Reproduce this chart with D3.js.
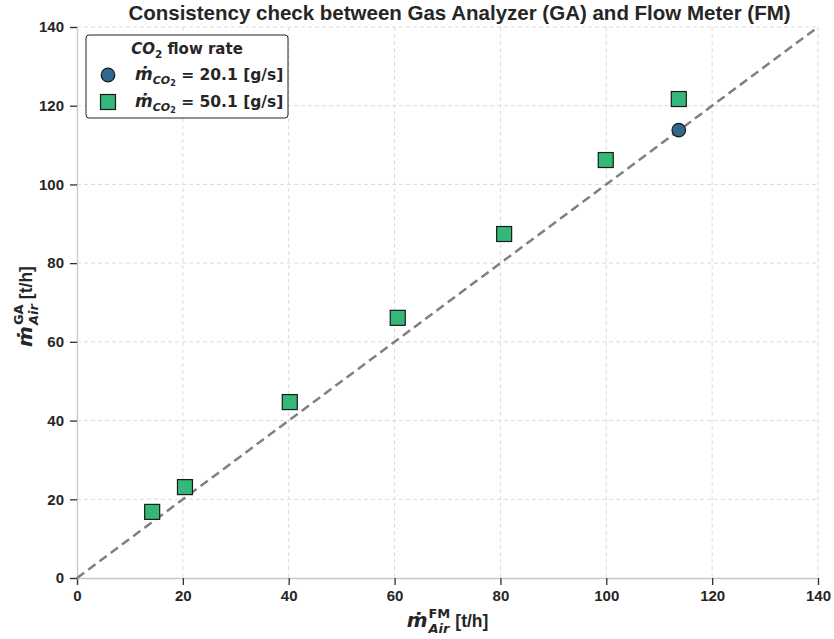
<!DOCTYPE html>
<html lang="en">
<head>
  <meta charset="utf-8" />
  <title>Consistency check</title>
  <style>
    body { margin: 0; background: #fff; font-family: "DejaVu Sans", sans-serif; }
    .tick text { font-family: "Liberation Sans", Arial, sans-serif; font-weight: 700; font-size: 15px; fill: #262626; }
    .grid line { stroke: #dcdcdc; stroke-dasharray: 4,3; }
  </style>
</head>
<body>
  <div id="graphic"></div>
  <script src="https://cdn.jsdelivr.net/npm/d3@7/dist/d3.min.js"></script>
  <script>
    // data
    var fmLow = [113.7];            // CO2 = 20.1 g/s
    var gaLow = [113.8];
    var fmHigh = [14.2, 20.4, 40.2, 60.6, 80.7, 99.9, 113.7];   // CO2 = 50.1 g/s
    var gaHigh = [16.8, 23.1, 44.7, 66.1, 87.4, 106.2, 121.7];
    var ticks = [0, 20, 40, 60, 80, 100, 120, 140];

    var width = 834, height = 639;
    var margin = {top: 27, right: 16, bottom: 61, left: 77};
    var w = width - margin.left - margin.right;
    var h = height - margin.top - margin.bottom;

    var svg = d3.select('#graphic').append('svg')
      .attr('width', width)
      .attr('height', height);

    var g = svg.append('g')
      .attr('transform', 'translate(' + margin.left + ',' + margin.top + ')');

    var x = d3.scaleLinear().domain([0, 140]).range([0, w]);
    var y = d3.scaleLinear().domain([0, 140]).range([h, 0]);

    // grid
    g.append('g').attr('class', 'grid')
      .selectAll('line').data(ticks.slice(1)).enter().append('line')
      .attr('x1', function(d) { return x(d) }).attr('x2', function(d) { return x(d) })
      .attr('y1', 0).attr('y2', h);
    g.append('g').attr('class', 'grid')
      .selectAll('line').data(ticks.slice(1)).enter().append('line')
      .attr('y1', function(d) { return y(d) }).attr('y2', function(d) { return y(d) })
      .attr('x1', 0).attr('x2', w);

    // axes
    var xAxis = g.append('g')
      .attr('transform', 'translate(0,' + h + ')')
      .call(d3.axisBottom(x).tickValues(ticks).tickSize(7).tickPadding(5));
    var yAxis = g.append('g')
      .call(d3.axisLeft(y).tickValues(ticks).tickSize(7).tickPadding(6));
    [xAxis, yAxis].forEach(function(a) {
      a.select('.domain').attr('stroke', '#c8c8c8').attr('stroke-width', 1.3);
      a.selectAll('.tick line').attr('stroke', '#333').attr('stroke-width', 1.3);
    });

    // 1:1 line
    g.append('line')
      .attr('x1', x(0)).attr('y1', y(0))
      .attr('x2', x(140)).attr('y2', y(140))
      .attr('stroke', '#808080')
      .attr('stroke-width', 2.5)
      .attr('stroke-dasharray', '9,5');

    // markers
    var sq = 15;
    g.selectAll('rect.high').data(fmHigh).enter().append('rect')
      .attr('class', 'high')
      .attr('x', function(d) { return x(d) - sq / 2 })
      .attr('y', function(d, i) { return y(gaHigh[i]) - sq / 2 })
      .attr('width', sq).attr('height', sq)
      .attr('fill', '#35b779').attr('stroke', '#1a1a1a').attr('stroke-width', 1.2);

    g.selectAll('circle.low').data(fmLow).enter().append('circle')
      .attr('class', 'low')
      .attr('cx', function(d) { return x(d) })
      .attr('cy', function(d, i) { return y(gaLow[i]) })
      .attr('r', 6.8)
      .attr('fill', '#31688e').attr('stroke', '#1a1a1a').attr('stroke-width', 1.2);

    // title
    svg.append('text')
      .attr('x', margin.left + w / 2 + 12).attr('y', 20)
      .attr('text-anchor', 'middle')
      .attr('font-family', '"Liberation Sans", Arial, sans-serif')
      .attr('font-weight', 700).attr('font-size', 20.5).attr('fill', '#262626')
      .text('Consistency check between Gas Analyzer (GA) and Flow Meter (FM)');

    // axis label: m-dot with sup/sub, then unit; built from separate texts
    function axisLabel(parent, sup) {
      var lab = parent.append('g');
      var m = lab.append('text').attr('x', 0).attr('y', 0)
        .attr('font-family', '"DejaVu Sans", sans-serif').attr('font-weight', 700)
        .attr('font-style', 'italic').attr('font-size', 20).attr('fill', '#262626').text('ṁ');
      var mw = m.node().getComputedTextLength() + 1;
      var s1 = lab.append('text').attr('x', mw).attr('y', -9)
        .attr('font-family', '"DejaVu Sans", sans-serif').attr('font-weight', 700)
        .attr('font-size', 13).attr('fill', '#262626').text(sup);
      var s2 = lab.append('text').attr('x', mw).attr('y', 6)
        .attr('font-family', '"DejaVu Sans", sans-serif').attr('font-weight', 700)
        .attr('font-style', 'italic').attr('font-size', 13).attr('fill', '#262626').text('Air');
      var sw = Math.max(s1.node().getComputedTextLength(), s2.node().getComputedTextLength());
      var u = lab.append('text').attr('x', mw + sw + 5).attr('y', 0)
        .attr('font-family', '"Liberation Sans", Arial, sans-serif').attr('font-weight', 700)
        .attr('font-size', 17.5).attr('fill', '#262626').text('[t/h]');
      var total = mw + sw + 5 + u.node().getComputedTextLength();
      lab.selectAll('text').attr('transform', 'translate(' + (-total / 2) + ',0)');
      return lab;
    }

    axisLabel(svg, 'FM').attr('transform', 'translate(' + (margin.left + w / 2) + ',627)');
    axisLabel(svg, 'GA').attr('transform', 'translate(32,' + (margin.top + h / 2 + 4) + ') rotate(-90)');

    // legend
    var lg = svg.append('g').attr('transform', 'translate(86,35)');
    lg.append('rect')
      .attr('width', 202).attr('height', 83).attr('rx', 3)
      .attr('fill', '#fff').attr('stroke', '#222').attr('stroke-width', 1);
    var lt = lg.append('text')
      .attr('x', 101).attr('y', 19).attr('text-anchor', 'middle')
      .attr('font-weight', 700).attr('font-size', 15).attr('fill', '#262626');
    lt.append('tspan').attr('font-style', 'italic').text('CO');
    lt.append('tspan').attr('font-size', '0.7em').attr('dy', 4).text('2');
    lt.append('tspan').attr('dy', -4).text(' flow rate');

    var entries = [
      {label: '20.1', shape: 'circle'},
      {label: '50.1', shape: 'rect'}
    ];
    entries.forEach(function(e, i) {
      var cy = 40 + i * 27;
      if (e.shape == 'circle') {
        lg.append('circle').attr('cx', 22).attr('cy', cy).attr('r', 6.8)
          .attr('fill', '#31688e').attr('stroke', '#1a1a1a').attr('stroke-width', 1.2);
      } else {
        lg.append('rect').attr('x', 14.5).attr('y', cy - 7.5).attr('width', 15).attr('height', 15)
          .attr('fill', '#35b779').attr('stroke', '#1a1a1a').attr('stroke-width', 1.2);
      }
      var t = lg.append('text').attr('x', 49).attr('y', cy + 5)
        .attr('font-weight', 700).attr('font-size', 15.5).attr('fill', '#262626');
      t.append('tspan').attr('font-style', 'italic').attr('font-size', 17).text('ṁ');
      t.append('tspan').attr('font-style', 'italic').attr('font-size', 11).attr('dy', 4).text('CO');
      t.append('tspan').attr('font-size', 8).attr('dy', 2).text('2');
      t.append('tspan').attr('dy', -6).text(' = ' + e.label + ' [g/s]');
    });
  </script>
</body>
</html>
